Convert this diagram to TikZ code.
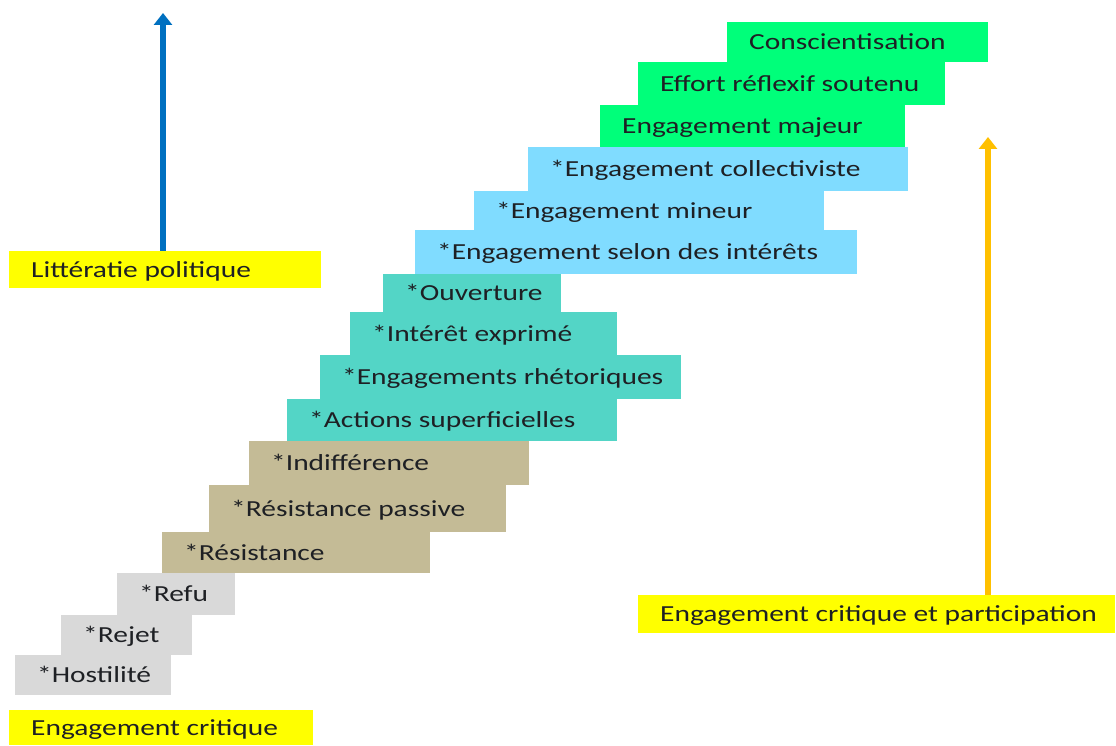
\documentclass[tikz,border=0pt]{standalone}
\usepackage{fontspec}
\setmainfont{Carlito}[FakeStretch=1.28]
\usetikzlibrary{arrows.meta}
\definecolor{cgreen}{RGB}{0,255,122}
\definecolor{cblue}{RGB}{128,220,255}
\definecolor{cteal}{RGB}{83,213,198}
\definecolor{ctan}{RGB}{196,187,150}
\definecolor{cgray}{RGB}{217,217,217}
\definecolor{cyel}{RGB}{255,255,0}
\definecolor{carrowblue}{RGB}{0,112,192}
\definecolor{carroworange}{RGB}{255,192,0}
\definecolor{ctext}{RGB}{30,32,36}
\tikzset{
  stairbox/.style={rectangle, draw=none, inner sep=0pt, anchor=north west},
  lbl/.style={inner sep=0pt, text height=14.8pt, text depth=0pt, anchor=west,
    text=ctext, font=\fontsize{23}{28}\selectfont},
  uparrow/.style={line width=5.5pt, -{Triangle[width=18pt,length=12pt]}},
}
\newcommand{\stair}[7]{%
  \node[stairbox, fill=#6, minimum width=#4pt, minimum height=#5pt] (#1) at (#2,#3) {};
  \node[lbl] (#1-t) at ([xshift=22pt]#1.west) {#7};
}
\begin{document}
\begin{tikzpicture}[x=1pt,y=1pt]
\useasboundingbox[fill=white] (0,0) rectangle (1116,745);
% green
\stair{cons}{727}{723}{261}{40}{cgreen}{Conscientisation}
\stair{eff}{638}{683}{307}{43}{cgreen}{Effort réflexif soutenu}
\stair{maj}{600}{640}{305}{42}{cgreen}{Engagement majeur}
% blue
\stair{coll}{528}{598}{380}{44}{cblue}{*Engagement collectiviste}
\stair{mine}{474}{554}{350}{39}{cblue}{*Engagement mineur}
\stair{inte}{415}{515}{442}{44}{cblue}{*Engagement selon des intérêts}
% teal
\stair{ouv}{383}{471}{178}{38}{cteal}{*Ouverture}
\stair{expr}{350}{433}{267}{43}{cteal}{*Intérêt exprimé}
\stair{rhet}{320}{390}{361}{44}{cteal}{*Engagements rhétoriques}
\stair{act}{287}{346}{330}{42}{cteal}{*Actions superficielles}
% tan
\stair{ind}{249}{304}{280}{44}{ctan}{*Indifférence}
\stair{rpas}{209}{260}{297}{47}{ctan}{*Résistance passive}
\stair{res}{162}{213}{268}{41}{ctan}{*Résistance}
% gray
\stair{refu}{117}{172}{118}{42}{cgray}{*Refu}
\stair{rej}{61}{130}{131}{40}{cgray}{*Rejet}
\stair{host}{15}{90}{156}{40}{cgray}{*Hostilité}
% yellow labels
\stair{lit}{9}{494}{312}{37}{cyel}{Littératie politique}
\stair{ec}{9}{35}{304}{35}{cyel}{Engagement critique}
\stair{ecp}{638}{150}{477}{38}{cyel}{Engagement critique et participation}
% arrows
\coordinate (btip) at (163,732);
\coordinate (otip) at (988,608);
\draw[uparrow, draw=carrowblue, fill=carrowblue] (lit.north -| btip) -- (btip);
\draw[uparrow, draw=carroworange, fill=carroworange] (ecp.north -| otip) -- (otip);
\end{tikzpicture}
\end{document}
